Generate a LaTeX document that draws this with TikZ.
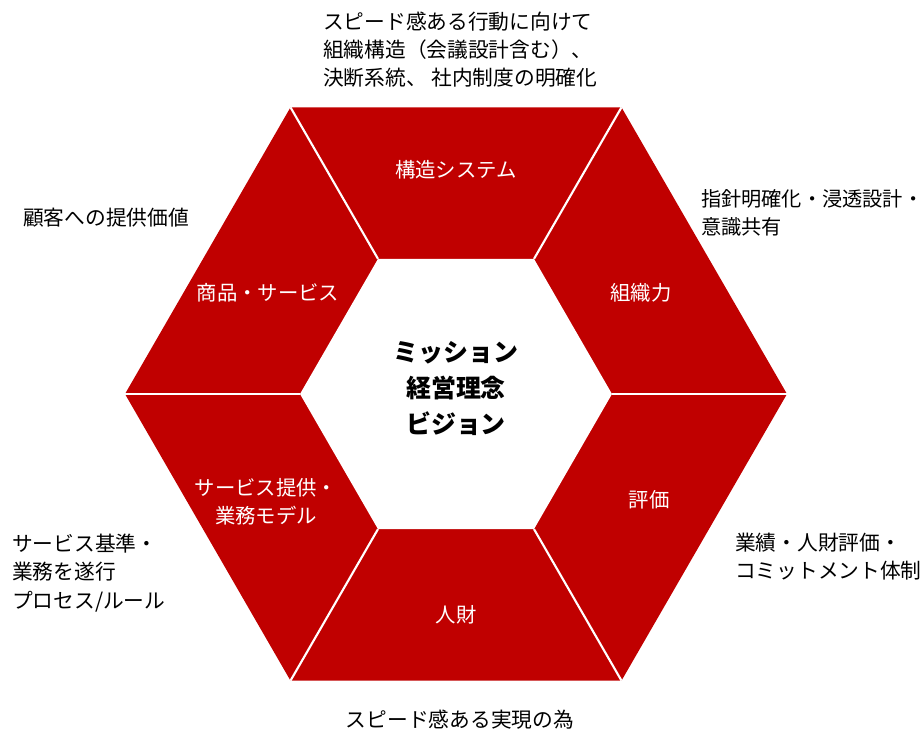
\documentclass[tikz,border=0pt]{standalone}
\usepackage{fontspec}
\setmainfont{Noto Sans CJK JP}
\usepackage{xcolor}
\usetikzlibrary{calc}
\definecolor{hexred}{HTML}{C00000}

\begin{document}
\begin{tikzpicture}[
    x=0.02cm, y=-0.02cm,
    seg/.style={font=\fontsize{11.6}{16}\selectfont, text=white, align=center},
    note/.style={font=\fontsize{11.8}{16}\selectfont, align=left, anchor=west, inner xsep=1pt},
    core/.style={font=\fontsize{14.2}{20.5}\selectfont\bfseries, align=center},
    sep/.style={draw=white, line width=1.2pt}
]
\useasboundingbox (0,0) rectangle (924,732);

% corner points of both hexagons
\coordinate (c) at (456,394);
\foreach \k in {1,...,6} {
    \coordinate (o\k) at ($(c)+({60*(\k-1)}:331)$);
    \coordinate (i\k) at ($(c)+({60*(\k-1)}:156)$);
}

% outer ring
\fill[hexred] (o1) -- (o2) -- (o3) -- (o4) -- (o5) -- (o6) -- cycle;
\fill[white] (i1) -- (i2) -- (i3) -- (i4) -- (i5) -- (i6) -- cycle;
\foreach \k in {1,...,6} {
    \draw[sep] (i\k) -- (o\k);
}

% segment labels
\node[seg] (kozo) at (456,170) {構造システム};
\node[seg] (soshiki) at (641,293) {組織力};
\node[seg] (hyoka) at (649,500) {評価};
\node[seg] (jinzai) at (456,615) {人財};
\node[seg] (gyomu) at (266,502) {サービス提供・\\業務モデル};
\node[seg] (shohin) at (268,293) {商品・サービス};

% centre
\node[core] (mission) at (456,389) {ミッション\\経営理念\\ビジョン};

% outside notes
\node[note] (nKozo) at (321,50) {スピード感ある行動に向けて\\組織構造（会議設計含む）、\\決断系統、 社内制度の明確化};
\node[note] (nShohin) at (21,218) {顧客への提供価値};
\node[note, font=\fontsize{11.5}{16}\selectfont] (nSoshiki) at (699,213) {指針明確化・浸透設計・\\意識共有};
\node[note] (nGyomu) at (10,573) {サービス基準・\\業務を遂行\\プロセス/ルール};
\node[note] (nHyoka) at (733,557) {業績・人財評価・\\コミットメント体制};
\node[font=\fontsize{11.8}{16}\selectfont] (nJinzai) at (460,720) {スピード感ある実現の為};

\end{tikzpicture}
\end{document}
